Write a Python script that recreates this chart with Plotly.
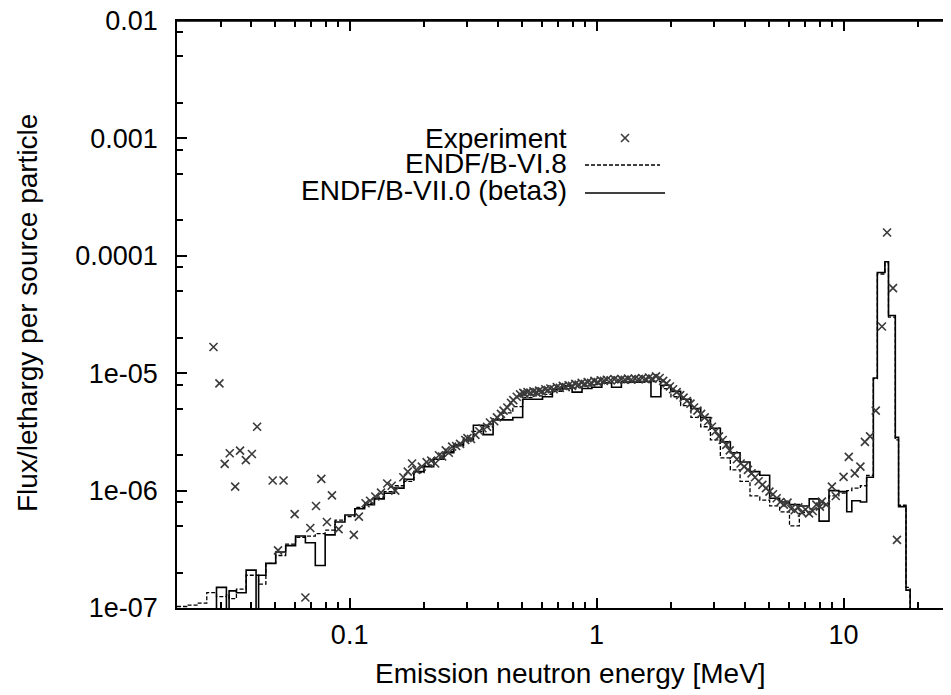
import plotly.graph_objects as go

OFF = 1e-9  # empty bin (below the axis)

# Histogram group boundaries (MeV)
E_EDGES = [
    0.0200, 0.0219, 0.0241, 0.0264, 0.0289, 0.0317, 0.0325, 0.0348, 0.0381, 0.0418,
    0.0428, 0.0458, 0.0502, 0.0551, 0.0604, 0.0662, 0.0726, 0.0796, 0.0873, 0.0957,
    0.105, 0.115, 0.126, 0.138, 0.152, 0.166, 0.182, 0.200, 0.219, 0.241,
    0.264, 0.289, 0.317, 0.348, 0.381, 0.418, 0.458, 0.502, 0.551, 0.604,
    0.662, 0.726, 0.796, 0.873, 0.957,
    1.05, 1.15, 1.26, 1.38, 1.52, 1.66, 1.82, 2.00, 2.19, 2.41,
    2.64, 2.89, 3.17, 3.48, 3.81, 4.18, 4.58, 5.02, 5.51, 6.04,
    6.62, 7.26, 7.96, 8.73, 9.57,
    10.3, 10.8, 11.7, 12.4, 13.2, 13.7, 14.7, 15.2, 16.2, 16.7, 17.9, 18.6, 19.5,
]

# ENDF/B-VII.0 (beta3) flux per group
FLUX_B7 = [
    OFF, OFF, OFF, OFF, 1.5e-7, OFF, 1.4e-7, 1.35e-7, 2.1e-7, OFF,
    1.9e-7, 2.4e-7, 3.0e-7, 3.4e-7, 4.1e-7, 3.6e-7, 2.3e-7, 4.2e-7, 5.4e-7, 6.2e-7,
    7.0e-7, 7.6e-7, 8.5e-7, 9.5e-7, 1.05e-6, 1.25e-6, 1.45e-6, 1.6e-6, 1.85e-6, 2.1e-6,
    2.45e-6, 2.7e-6, 3.6e-6, 3.0e-6, 4.0e-6, 4.0e-6, 4.2e-6, 6.0e-6, 6.0e-6, 6.3e-6,
    7.3e-6, 7.8e-6, 6.9e-6, 7.4e-6, 7.6e-6, 8.3e-6, 7.6e-6, 8.4e-6, 8.4e-6, 8.5e-6,
    6.3e-6, 7.9e-6, 7.0e-6, 6.0e-6, 5.0e-6, 4.2e-6, 3.4e-6, 2.6e-6, 2.1e-6, 1.75e-6,
    1.45e-6, 1.35e-6, 8.6e-7, 8.0e-7, 7.6e-7, 7.4e-7, 8.5e-7, 5.5e-7, 1.0e-6, 9.8e-7,
    6.6e-7, 8.2e-7, 8.0e-7, 1.3e-6, 9.1e-6, 7.2e-5, 8.9e-5, 3.1e-5, 2.84e-6, 7.3e-7,
    1.42e-7, OFF,
]

# ENDF/B-VI.8 flux per group
FLUX_B6 = [
    1.03e-7, 1.06e-7, 1.1e-7, 1.35e-7, 1.25e-7, 1.3e-7, 1.2e-7, 1.45e-7, 1.9e-7, 1.9e-7,
    1.6e-7, 2.4e-7, 2.8e-7, 3.5e-7, 4.0e-7, 4.1e-7, 4.3e-7, 4.6e-7, 5.6e-7, 6.0e-7,
    7.2e-7, 7.8e-7, 8.8e-7, 9.8e-7, 1.1e-6, 1.2e-6, 1.42e-6, 1.65e-6, 1.9e-6, 2.15e-6,
    2.4e-6, 2.8e-6, 3.2e-6, 3.5e-6, 4.1e-6, 4.6e-6, 5.2e-6, 6.2e-6, 6.4e-6, 6.6e-6,
    7.0e-6, 7.4e-6, 7.5e-6, 7.8e-6, 8.0e-6, 8.2e-6, 8.4e-6, 8.3e-6, 8.6e-6, 8.4e-6,
    8.5e-6, 7.4e-6, 6.3e-6, 5.3e-6, 4.2e-6, 3.5e-6, 2.7e-6, 1.9e-6, 1.5e-6, 1.2e-6,
    9.0e-7, 8.3e-7, 7.4e-7, 6.6e-7, 5.0e-7, 6.5e-7, 7.0e-7, 7.5e-7, 9.0e-7, 9.5e-7,
    1.0e-6, 1.05e-6, 1.1e-6, 1.35e-6, 9.0e-6, 7.0e-5, 8.7e-5, 3.0e-5, 2.7e-6, 7.5e-7,
    1.5e-7, OFF,
]

# Experiment
E_EXP = [
    0.0281, 0.0297, 0.0312, 0.0327, 0.0344, 0.0360, 0.0380, 0.0402, 0.0422, 0.0488,
    0.0513, 0.0540, 0.0599, 0.0662, 0.0693, 0.0731, 0.0768, 0.0809, 0.0848, 0.0902,
    0.104, 0.109, 0.116, 0.121, 0.127, 0.134, 0.142, 0.148, 0.153, 0.165,
    0.172, 0.179, 0.186, 0.196, 0.205, 0.214, 0.222, 0.230, 0.237, 0.245,
    0.252, 0.260, 0.270, 0.280, 0.294, 0.300, 0.310, 0.323, 0.335, 0.345,
    0.360, 0.370, 0.385, 0.395, 0.410, 0.420, 0.435, 0.450, 0.460, 0.475,
    0.490, 0.505, 0.510, 0.525, 0.540, 0.555, 0.570, 0.585, 0.600, 0.620,
    0.635, 0.650, 0.670, 0.690, 0.710, 0.730, 0.750, 0.770, 0.795, 0.820,
    0.845, 0.870, 0.895, 0.920, 0.950, 0.980, 1.01, 1.04, 1.07, 1.10,
    1.14, 1.18, 1.22, 1.26, 1.30, 1.34, 1.38, 1.43, 1.48, 1.53,
    1.58, 1.63, 1.68, 1.74, 1.80, 1.86, 1.92, 1.98, 2.04, 2.11,
    2.18, 2.25, 2.32, 2.40, 2.48, 2.56, 2.65, 2.74, 2.83, 2.93,
    3.03, 3.13, 3.24, 3.35, 3.46, 3.58, 3.70, 3.83, 3.96, 4.10,
    4.24, 4.38, 4.53, 4.69, 4.85, 5.01, 5.18, 5.36, 5.54, 5.73,
    5.93, 6.13, 6.34, 6.56, 6.78, 7.01, 7.25, 7.50, 7.76, 8.02,
    8.17, 8.50, 8.97, 9.30, 10.0, 10.5, 11.1, 11.7, 12.2, 12.8,
    13.5, 14.3, 15.0, 15.85, 16.45,
]
F_EXP = [
    1.67e-5, 8.2e-6, 1.69e-6, 2.08e-6, 1.08e-6, 2.19e-6, 1.82e-6, 2.05e-6, 3.5e-6, 1.22e-6,
    3.1e-7, 1.22e-6, 6.3e-7, 1.23e-7, 4.8e-7, 7.4e-7, 1.26e-6, 5.4e-7, 9.1e-7, 4.7e-7,
    4.2e-7, 6.0e-7, 7.8e-7, 8.2e-7, 8.9e-7, 9.6e-7, 1.15e-6, 1.1e-6, 1.0e-6, 1.3e-6,
    1.45e-6, 1.7e-6, 1.5e-6, 1.6e-6, 1.75e-6, 1.8e-6, 1.7e-6, 2.0e-6, 1.95e-6, 2.2e-6,
    2.1e-6, 2.37e-6, 2.4e-6, 2.5e-6, 2.7e-6, 2.8e-6, 2.75e-6, 2.98e-6, 3.2e-6, 3.4e-6,
    3.5e-6, 3.8e-6, 3.9e-6, 4.2e-6, 4.5e-6, 4.8e-6, 5.1e-6, 5.6e-6, 5.9e-6, 6.3e-6,
    6.6e-6, 6.8e-6, 6.7e-6, 6.9e-6, 6.8e-6, 7.0e-6, 6.9e-6, 7.1e-6, 7.0e-6, 7.3e-6,
    7.2e-6, 7.4e-6, 7.3e-6, 7.6e-6, 7.5e-6, 7.8e-6, 7.6e-6, 7.9e-6, 7.8e-6, 8.1e-6,
    8.0e-6, 8.3e-6, 8.1e-6, 8.4e-6, 8.3e-6, 8.6e-6, 8.4e-6, 8.7e-6, 8.6e-6, 8.8e-6,
    8.7e-6, 8.9e-6, 8.7e-6, 8.9e-6, 8.8e-6, 9.0e-6, 8.8e-6, 9.0e-6, 8.9e-6, 9.1e-6,
    8.9e-6, 9.2e-6, 9.0e-6, 9.4e-6, 9.1e-6, 8.6e-6, 8.2e-6, 7.7e-6, 7.3e-6, 6.9e-6,
    6.5e-6, 6.2e-6, 5.8e-6, 5.5e-6, 5.1e-6, 4.8e-6, 4.5e-6, 4.2e-6, 3.9e-6, 3.5e-6,
    3.2e-6, 2.9e-6, 2.7e-6, 2.45e-6, 2.2e-6, 2.0e-6, 1.85e-6, 1.7e-6, 1.6e-6, 1.5e-6,
    1.4e-6, 1.3e-6, 1.2e-6, 1.12e-6, 1.05e-6, 9.8e-7, 9.3e-7, 8.6e-7, 8.0e-7, 7.6e-7,
    7.9e-7, 7.0e-7, 6.8e-7, 7.2e-7, 6.5e-7, 6.9e-7, 6.4e-7, 6.7e-7, 7.6e-7, 7.3e-7,
    8.05e-7, 7.6e-7, 1.08e-6, 9.0e-7, 1.31e-6, 1.94e-6, 1.4e-6, 1.6e-6, 2.6e-6, 2.9e-6,
    4.8e-6, 2.5e-5, 1.58e-4, 5.3e-5, 3.8e-7,
]

X_TICKS = [0.1, 1, 10]
X_TICK_TEXT = ["0.1", "1", "10"]
X_MINOR = [0.02, 0.03, 0.04, 0.05, 0.06, 0.07, 0.08, 0.09,
           0.2, 0.3, 0.4, 0.5, 0.6, 0.7, 0.8, 0.9,
           2, 3, 4, 5, 6, 7, 8, 9, 20]
Y_TICKS = [1e-7, 1e-6, 1e-5, 1e-4, 1e-3, 1e-2]
Y_TICK_TEXT = ["1e-07", "1e-06", "1e-05", "0.0001", "0.001", "0.01"]
Y_MINOR = [m * 10.0 ** p for p in range(-7, -2) for m in (2, 5, 8)]

LEGEND_NAMES = ["Experiment", "ENDF/B-VI.8", "ENDF/B-VII.0 (beta3)"]

assert len(FLUX_B7) == len(E_EDGES) - 1
assert len(FLUX_B6) == len(E_EDGES) - 1
assert len(E_EXP) == len(F_EXP)

FONT = "Liberation Sans, Arial, Helvetica, sans-serif"
FS_TICK = 27
FS = 28
DASH = "4px,2px"

# page body has an 8px margin: the figure is drawn 8px in from the window corner
OFS = 8
W, H = 951 - OFS, 695 - OFS
L, T = 177 - OFS, 21 - OFS
B = H - (608 - OFS)
R = 0
PW, PH = W - L - R, H - T - B


def px(xs):
    """screen x -> paper x"""
    return (xs - OFS - L) / PW


def py(ys):
    """screen y -> paper y"""
    return ((608 - OFS) - (ys - OFS)) / PH


fig = go.Figure()
fig.add_trace(go.Scatter(
    x=E_EDGES, y=FLUX_B6 + [FLUX_B6[-1]], mode="lines", line_shape="hv",
    line=dict(color="black", width=1.3, dash=DASH), name=LEGEND_NAMES[1]))
fig.add_trace(go.Scatter(
    x=E_EDGES, y=FLUX_B7 + [FLUX_B7[-1]], mode="lines", line_shape="hv",
    line=dict(color="black", width=1.6), name=LEGEND_NAMES[2]))
fig.add_trace(go.Scatter(
    x=E_EXP, y=F_EXP, mode="markers", name=LEGEND_NAMES[0],
    marker=dict(symbol="x-thin", size=8, line=dict(color="#3a3a3a", width=1.6))))
# invisible trace on the top axis so that it is drawn with its ticks
fig.add_trace(go.Scatter(x=[X_TICKS[0]], y=[Y_TICKS[0]], xaxis="x2", mode="markers",
                         marker=dict(opacity=0), hoverinfo="skip", showlegend=False))

annotations = [
    dict(text="Emission neutron energy [MeV]", x=px(570), y=py(673), xref="paper", yref="paper",
         showarrow=False, xanchor="center", yanchor="middle", font=dict(size=FS)),
    dict(text="Flux/lethargy per source particle", x=px(27), y=py(313), xref="paper", yref="paper",
         showarrow=False, xanchor="center", yanchor="middle", textangle=-90, font=dict(size=FS)),
]
legend_y = [138, 164, 190]
for name, yy in zip(LEGEND_NAMES, legend_y):
    annotations.append(dict(text=name, x=px(569), y=py(yy), xref="paper", yref="paper",
                            showarrow=False, xanchor="right", yanchor="middle",
                            font=dict(size=FS)))

shapes = [
    # top frame line
    dict(type="line", xref="paper", yref="paper", x0=0, x1=1, y0=1, y1=1,
         line=dict(color="black", width=1.5)),
    # legend samples
    dict(type="line", xref="paper", yref="paper", x0=px(621), x1=px(629), y0=py(134), y1=py(142),
         line=dict(color="#3a3a3a", width=1.6)),
    dict(type="line", xref="paper", yref="paper", x0=px(621), x1=px(629), y0=py(142), y1=py(134),
         line=dict(color="#3a3a3a", width=1.6)),
    dict(type="line", xref="paper", yref="paper", x0=px(585), x1=px(660), y0=py(165), y1=py(165),
         line=dict(color="black", width=1.3, dash=DASH)),
    dict(type="line", xref="paper", yref="paper", x0=px(585), x1=px(665), y0=py(193), y1=py(193),
         line=dict(color="black", width=1.6)),
]

axis_common = dict(
    showline=True, linecolor="black", linewidth=1.5,
    showgrid=False, zeroline=False, automargin=False,
    ticks="inside", ticklen=10, tickwidth=1.5, tickcolor="black",
)
x_minor = dict(tickmode="array", tickvals=X_MINOR, ticks="inside", ticklen=6,
               tickwidth=1.5, tickcolor="black", showgrid=False)

fig.update_layout(
    width=W, height=H,
    margin=dict(l=L, r=R, t=T, b=B, pad=0, autoexpand=False),
    paper_bgcolor="white", plot_bgcolor="white",
    font=dict(family=FONT, size=FS_TICK, color="black"),
    showlegend=False,
    annotations=annotations,
    shapes=shapes,
    xaxis=dict(
        type="log", range=[-1.699, 1.435], mirror=False,
        tickmode="array", tickvals=X_TICKS, ticktext=X_TICK_TEXT,
        ticklabelstandoff=2, ticklabeloverflow="allow",
        minor=x_minor, **axis_common,
    ),
    xaxis2=dict(
        type="log", range=[-1.699, 1.435], overlaying="x", side="top", anchor="y",
        matches="x", showticklabels=False,
        tickmode="array", tickvals=X_TICKS, ticktext=X_TICK_TEXT,
        minor=x_minor, **axis_common,
    ),
    yaxis=dict(
        type="log", range=[-7, -2], mirror=False,
        tickmode="array", tickvals=Y_TICKS, ticktext=Y_TICK_TEXT,
        ticklabelstandoff=12, ticklabeloverflow="allow",
        minor=dict(tickmode="array", tickvals=Y_MINOR, ticks="inside", ticklen=6,
                   tickwidth=1.5, tickcolor="black", showgrid=False),
        **axis_common,
    ),
)

fig.write_html("out.html")
